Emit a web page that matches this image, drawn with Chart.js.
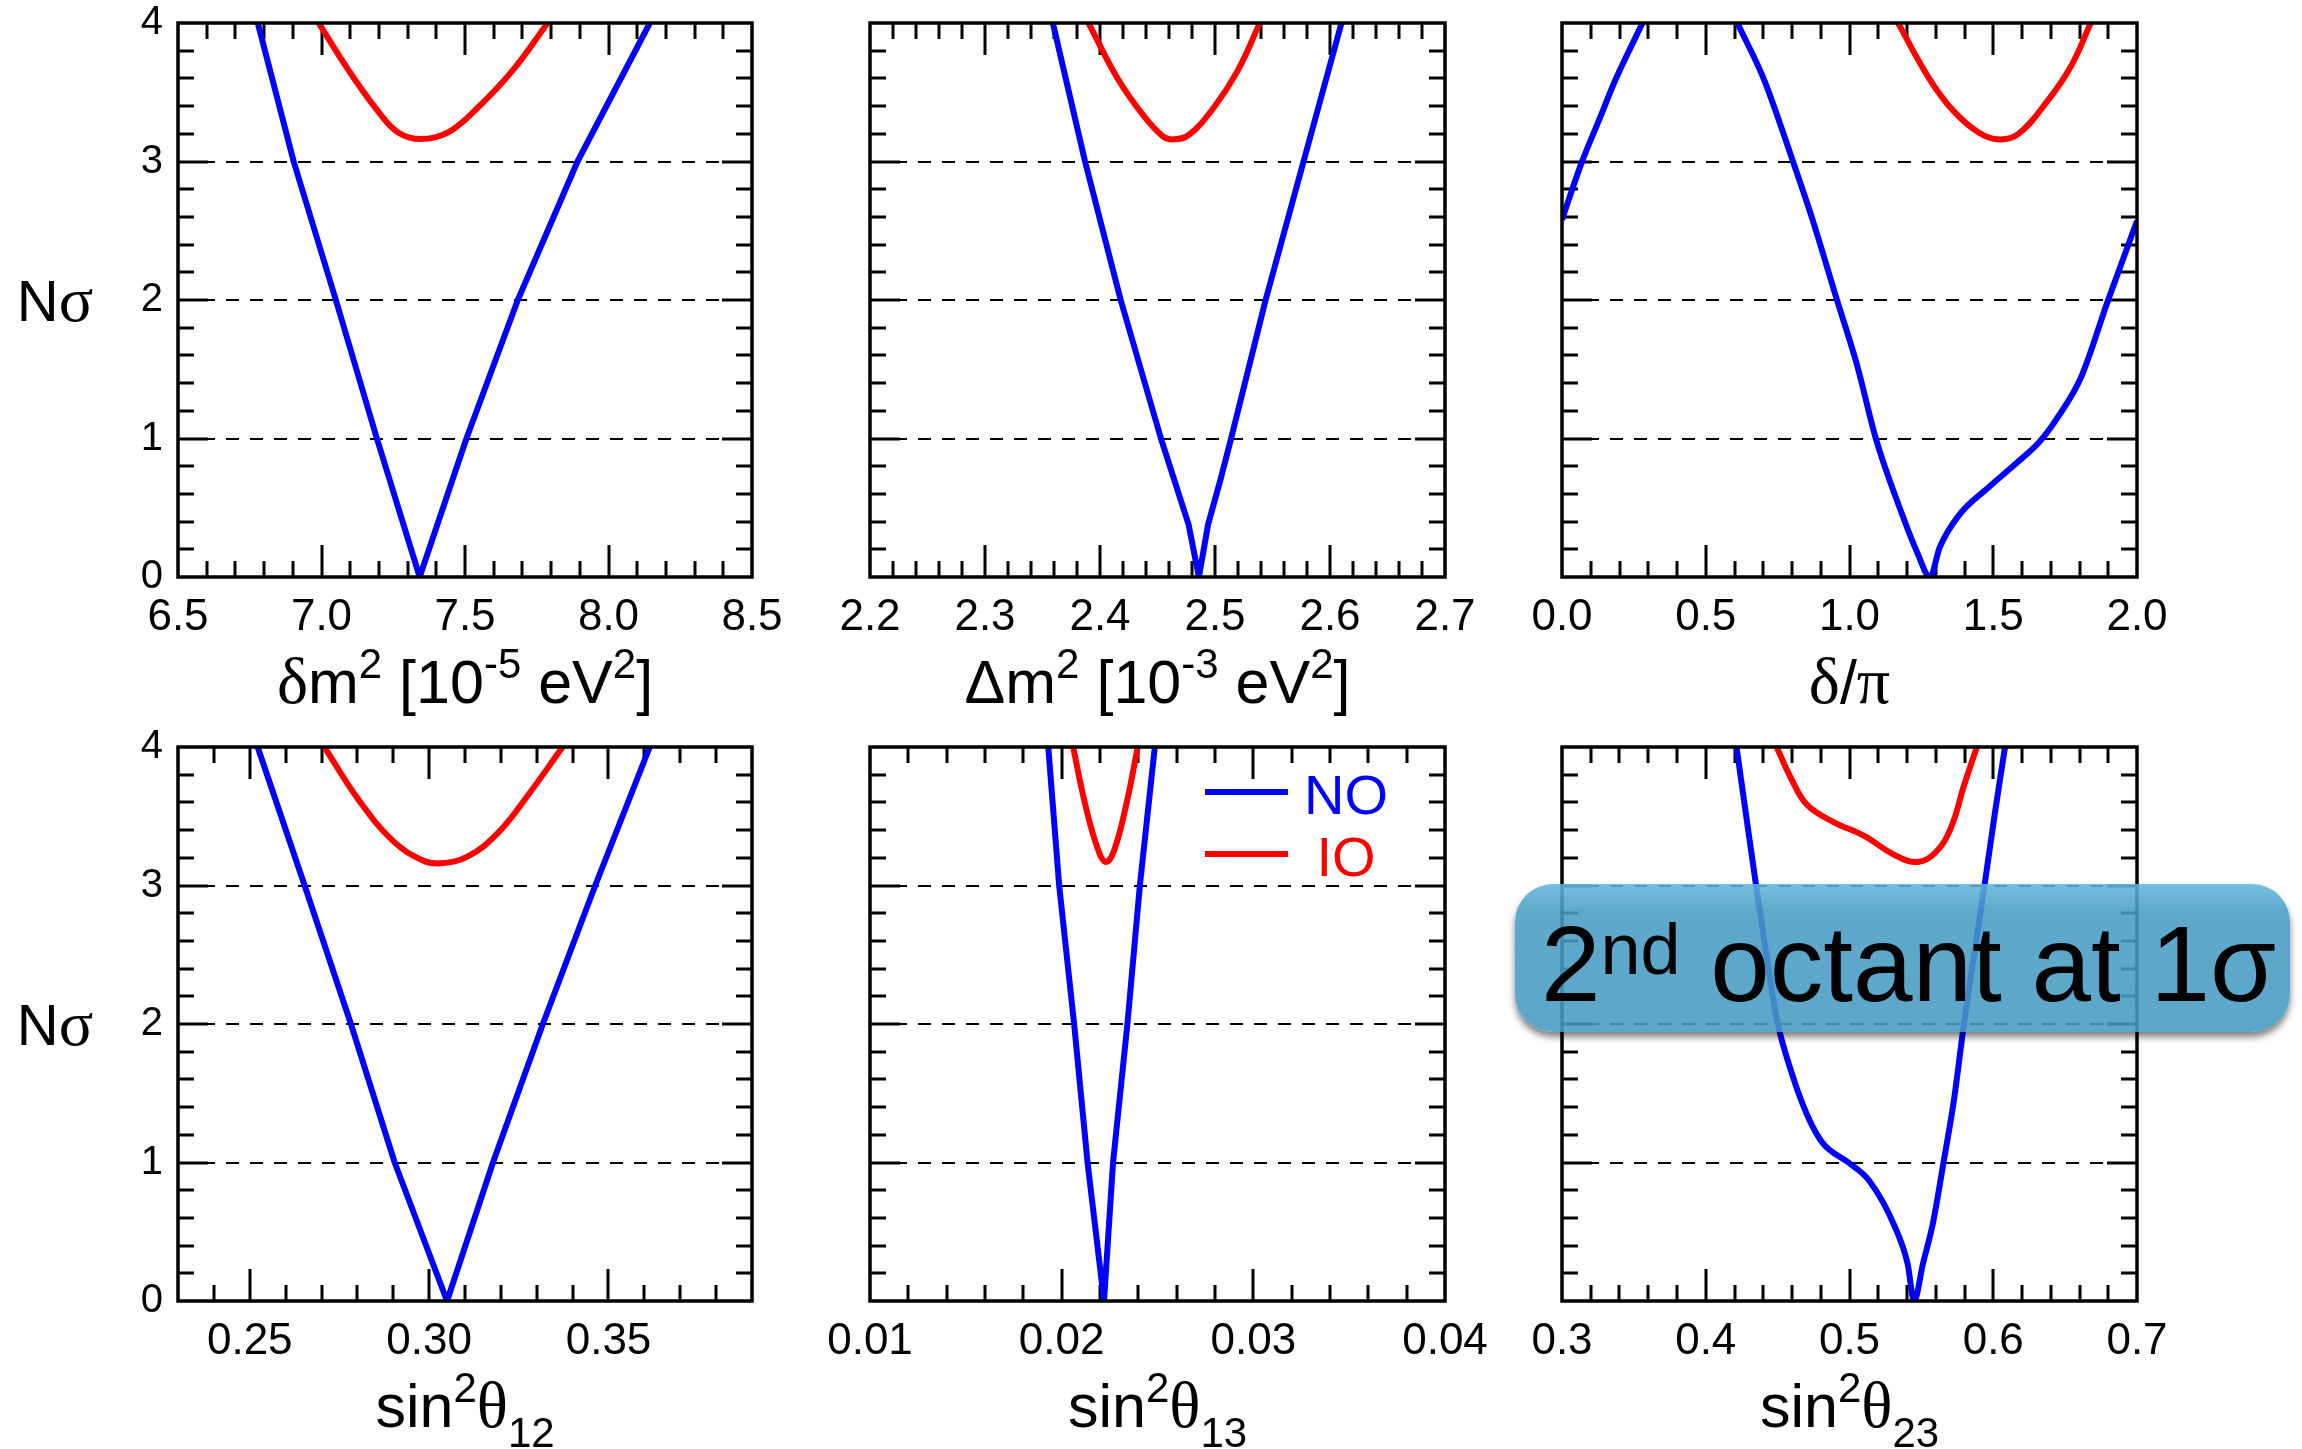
<!DOCTYPE html>
<html>
<head>
<meta charset="utf-8">
<script src="https://cdn.jsdelivr.net/npm/chart.js@4.4.1/dist/chart.umd.min.js"></script>
<style>
  html, body { margin: 0; padding: 0; background: #fff; width: 2302px; height: 1449px; overflow: hidden; }
  canvas { position: absolute; }
  #note {
    position: absolute; left: 1515px; top: 884px; width: 775px; height: 148px;
    border-radius: 38px;
    background: linear-gradient(rgba(100,182,218,0.88), rgba(72,157,196,0.88) 18%, rgba(70,155,194,0.88));
    box-shadow: 0 5px 7px rgba(0,0,0,0.5);
  }
  #note .txt {
    position: absolute; left: 26px; top: 0; line-height: 148px; padding-top: 6px;
    font-family: 'Liberation Sans', Arial, sans-serif; font-size: 107px; color: #000; white-space: nowrap;
  }
  #note .sup { font-size: 72px; position: relative; top: -27px; }
</style>
</head>
<body>
<canvas id="c1"></canvas>
<canvas id="c2"></canvas>
<canvas id="c3"></canvas>
<canvas id="c4"></canvas>
<canvas id="c5"></canvas>
<canvas id="c6"></canvas>
<div id="note"><span class="txt">2<span class="sup">nd</span> octant at 1σ</span></div>
<script>
// ---- values ----
const seriesNames = ['NO', 'IO'];
const yTickLabels = ['0', '1', '2', '3', '4'];

// delta m^2 (1e-5 eV^2)
const dm21TickLabels = ['6.5', '7.0', '7.5', '8.0', '8.5'];
const dm21NOx = [6.778, 6.903, 7.05, 7.193, 7.342, 7.505, 7.684, 7.892, 8.144];
const dm21NOy = [4, 3, 2, 1, 0, 1, 2, 3, 4];
const dm21IOx = [6.99, 7.094, 7.198, 7.267, 7.345, 7.441, 7.545, 7.667, 7.788];
const dm21IOy = [4, 3.66, 3.36, 3.21, 3.162, 3.21, 3.39, 3.66, 4];

// Delta m^2 (1e-3 eV^2)
const dm31TickLabels = ['2.2', '2.3', '2.4', '2.5', '2.6', '2.7'];
const dm31NOx = [2.359, 2.387, 2.418, 2.453, 2.477, 2.486, 2.494, 2.505, 2.514, 2.544, 2.577, 2.610];
const dm31NOy = [4, 3, 2, 1, 0.38, 0, 0.38, 0.71, 1, 2, 3, 4];
const dm31IOx = [2.390, 2.416, 2.438, 2.455, 2.464, 2.477, 2.499, 2.520, 2.539];
const dm31IOy = [4, 3.59, 3.33, 3.18, 3.16, 3.19, 3.39, 3.66, 4];

// delta / pi
const deltaTickLabels = ['0.0', '0.5', '1.0', '1.5', '2.0'];
const deltaNOx = [0, 0.068, 0.127, 0.186, 0.28, 0.45, 0.61, 0.703, 0.805, 0.873, 0.958, 1.025, 1.093, 1.178, 1.237, 1.28, 1.314, 1.381, 1.483, 1.585, 1.661, 1.720, 1.805, 1.898, 2.0];
const deltaNOy = [2.58, 2.99, 3.29, 3.59, 4, null, 4, 3.59, 2.99, 2.57, 1.99, 1.54, 0.99, 0.48, 0.17, 0, 0.215, 0.447, 0.646, 0.83, 0.977, 1.14, 1.44, 1.99, 2.57];
const deltaIOx = [1.169, 1.280, 1.364, 1.449, 1.517, 1.585, 1.686, 1.771, 1.839];
const deltaIOy = [4, 3.59, 3.36, 3.21, 3.16, 3.195, 3.43, 3.69, 4];

// sin^2 theta12
const s12TickLabels = ['0.25', '0.30', '0.35'];
const s12NOx = [0.2522, 0.2653, 0.2782, 0.2904, 0.305, 0.3178, 0.3317, 0.3463, 0.3615];
const s12NOy = [4, 3, 2, 1, 0, 1, 2, 3, 4];
const s12IOx = [0.2708, 0.2803, 0.29, 0.2983, 0.3032, 0.3108, 0.3192, 0.3275, 0.3372];
const s12IOy = [4, 3.62, 3.32, 3.18, 3.16, 3.21, 3.38, 3.65, 4];

// sin^2 theta13
const s13TickLabels = ['0.01', '0.02', '0.03', '0.04'];
const s13NOx = [0.0193, 0.01987, 0.02065, 0.02135, 0.02221, 0.02268, 0.02343, 0.02408, 0.02486];
const s13NOy = [4, 3, 2, 1, 0, 1, 2, 3, 4];
const s13IOx = [0.0206, 0.02117, 0.02182, 0.02229, 0.02273, 0.02338, 0.02397];
const s13IOy = [4, 3.62, 3.29, 3.17, 3.25, 3.59, 4];

// sin^2 theta23
const s23TickLabels = ['0.3', '0.4', '0.5', '0.6', '0.7'];
const s23NOx = [0.4214, 0.4279, 0.435, 0.4421, 0.4493, 0.46, 0.4707, 0.4814, 0.4993, 0.5136, 0.5314, 0.5404, 0.545, 0.5511, 0.5582, 0.5654, 0.5725, 0.5796, 0.5868, 0.5939, 0.6011, 0.6082];
const s23NOy = [4, 3.52, 3.0, 2.51, 2.04, 1.64, 1.34, 1.14, 1.0, 0.87, 0.54, 0.27, 0, 0.27, 0.57, 1.0, 1.44, 2.0, 2.51, 3.0, 3.52, 4];
const s23IOx = [0.4493, 0.46, 0.4707, 0.4886, 0.51, 0.5314, 0.5475, 0.56, 0.5707, 0.5796, 0.5886];
const s23IOy = [4, 3.76, 3.58, 3.46, 3.36, 3.22, 3.17, 3.24, 3.42, 3.72, 4];

// ---- styling ----
const SANS = "'Liberation Sans', Arial, sans-serif";
const SERIF = "'Liberation Serif', 'Times New Roman', serif";
const BLUE = '#0000ff', RED = '#ff0000';

const sup = (t) => [t, SANS, 42, -25];
const sub = (t) => [t, SANS, 42, 20];
const titleDm21 = [['δ', SERIF, 66, 0], ['m', SANS, 61, 0], sup('2'), [' [10', SANS, 61, 0], sup('-5'), [' eV', SANS, 61, 0], sup('2'), [']', SANS, 61, 0]];
const titleDm31 = [['Δm', SANS, 61, 0], sup('2'), [' [10', SANS, 61, 0], sup('-3'), [' eV', SANS, 61, 0], sup('2'), [']', SANS, 61, 0]];
const titleDelta = [['δ', SERIF, 66, 0], ['/', SANS, 61, 0], ['π', SERIF, 66, 0]];
const titleS = (k) => [['sin', SANS, 61, 0], sup('2'), ['θ', SERIF, 65, 0], sub(k)];

const cols = [[178, 752], [870, 1445], [1562, 2137]];
const rows = [[23, 577], [747, 1301]];

const panels = [
  { id: 'c1', col: 0, row: 0, min: 6.5, max: 8.5, minor: 0.1, labels: dm21TickLabels, no: [dm21NOx, dm21NOy], io: [dm21IOx, dm21IOy], title: titleDm21, smooth: false },
  { id: 'c2', col: 1, row: 0, min: 2.2, max: 2.7, minor: 0.02, labels: dm31TickLabels, no: [dm31NOx, dm31NOy], io: [dm31IOx, dm31IOy], title: titleDm31, smooth: false },
  { id: 'c3', col: 2, row: 0, min: 0, max: 2, minor: 0.1, labels: deltaTickLabels, no: [deltaNOx, deltaNOy], io: [deltaIOx, deltaIOy], title: titleDelta, smooth: true },
  { id: 'c4', col: 0, row: 1, min: 0.23, max: 0.39, minor: 0.01, labels: s12TickLabels, no: [s12NOx, s12NOy], io: [s12IOx, s12IOy], title: titleS('12'), smooth: false },
  { id: 'c5', col: 1, row: 1, min: 0.01, max: 0.04, minor: 0.002, labels: s13TickLabels, no: [s13NOx, s13NOy], io: [s13IOx, s13IOy], title: titleS('13'), smooth: false, legend: true },
  { id: 'c6', col: 2, row: 1, min: 0.3, max: 0.7, minor: 0.02, labels: s23TickLabels, no: [s23NOx, s23NOy], io: [s23IOx, s23IOy], title: titleS('23'), smooth: true }
];

const PADL = 180, PADT = 40, PADR = 60, XH = 160;

function pts(xs, ys) {
  return xs.map((x, i) => ({ x: x, y: ys[i] }));
}

function line(ctx, x1, y1, x2, y2) {
  ctx.beginPath(); ctx.moveTo(x1, y1); ctx.lineTo(x2, y2); ctx.stroke();
}

function drawRich(ctx, parts, cx, base) {
  let w = 0;
  parts.forEach(p => { ctx.font = p[2] + 'px ' + p[1]; w += ctx.measureText(p[0]).width; });
  let x = cx - w / 2;
  ctx.textAlign = 'left'; ctx.textBaseline = 'alphabetic'; ctx.fillStyle = '#000';
  parts.forEach(p => {
    ctx.font = p[2] + 'px ' + p[1];
    ctx.fillText(p[0], x, base + p[3]);
    x += ctx.measureText(p[0]).width;
  });
}

// frame, inner ticks, dashed sigma lines, titles and legend for one panel
function framePlugin(p) {
  return {
    id: 'frame',
    beforeDatasetsDraw(chart) {
      const { ctx, chartArea: a, scales: { x, y } } = chart;
      ctx.save();
      ctx.strokeStyle = '#000';
      ctx.lineWidth = 2.2;
      ctx.setLineDash([13, 11]);
      yTickLabels.map(Number).forEach(v => {
        if (v > y.min && v < y.max) {
          const py = Math.round(y.getPixelForValue(v));
          line(ctx, a.left, py, a.right, py);
        }
      });
      ctx.setLineDash([]);
      ctx.lineWidth = 3;
      const majors = p.labels.map(Number);
      const n = Math.round((p.max - p.min) / p.minor);
      for (let i = 1; i < n; i++) {
        const v = p.min + i * p.minor;
        const isMajor = majors.some(m => Math.abs(m - v) < p.minor / 10);
        const len = isMajor ? 32 : 16;
        const px = Math.round(x.getPixelForValue(v));
        line(ctx, px, a.bottom, px, a.bottom - len);
        line(ctx, px, a.top, px, a.top + len);
      }
      for (let i = 1; i < 20; i++) {
        const len = i % 5 === 0 ? 30 : 16;
        const py = Math.round(y.getPixelForValue(i * 0.2));
        line(ctx, a.left, py, a.left + len, py);
        line(ctx, a.right, py, a.right - len, py);
      }
      ctx.restore();
    },
    afterDatasetsDraw(chart) {
      const { ctx, chartArea: a, scales: { y } } = chart;
      ctx.save();
      ctx.strokeStyle = '#000';
      ctx.lineWidth = 3.5;
      ctx.strokeRect(a.left, a.top, a.right - a.left, a.bottom - a.top);
      drawRich(ctx, p.title, (a.left + a.right) / 2, a.bottom + 126);
      if (p.col === 0) {
        drawRich(ctx, [['N', SANS, 58, 0], ['σ', SERIF, 64, 0]], 57, y.getPixelForValue(2) + 21);
      }
      if (p.legend) {
        chart.data.datasets.forEach((ds, i) => {
          const ly = a.top + 45 + i * 62;
          ctx.strokeStyle = ds.borderColor;
          ctx.lineWidth = 6;
          line(ctx, a.left + 335, ly, a.left + 418, ly);
          ctx.fillStyle = ds.borderColor;
          ctx.font = '56px ' + SANS;
          ctx.textAlign = 'center';
          ctx.textBaseline = 'alphabetic';
          ctx.fillText(ds.label, a.left + 476, ly + 22);
        });
      }
      ctx.restore();
    }
  };
}

panels.forEach(p => {
  const [L, R] = cols[p.col];
  const [T, B] = rows[p.row];
  const cv = document.getElementById(p.id);
  const w = PADL + (R - L) + PADR;
  const h = PADT + (B - T) + XH;
  cv.width = w; cv.height = h;
  cv.style.width = w + 'px'; cv.style.height = h + 'px';
  cv.style.left = (L - PADL) + 'px'; cv.style.top = (T - PADT) + 'px';

  const lineStyle = { showLine: true, pointRadius: 0, borderWidth: 6, clip: 0, borderJoinStyle: 'round', spanGaps: false };
  new Chart(cv, {
    type: 'scatter',
    data: {
      datasets: [
        Object.assign({ label: seriesNames[0], data: pts(p.no[0], p.no[1]), borderColor: BLUE, backgroundColor: BLUE,
          tension: 0, cubicInterpolationMode: p.smooth ? 'monotone' : 'default' }, lineStyle),
        Object.assign({ label: seriesNames[1], data: pts(p.io[0], p.io[1]), borderColor: RED, backgroundColor: RED,
          tension: 0.4 }, lineStyle)
      ]
    },
    options: {
      responsive: false,
      animation: false,
      devicePixelRatio: 1,
      events: [],
      layout: { padding: { left: 0, top: PADT, right: PADR, bottom: 0 } },
      plugins: { legend: { display: false }, tooltip: { enabled: false } },
      scales: {
        x: {
          type: 'linear', min: p.min, max: p.max,
          grid: { display: false }, border: { display: false },
          afterBuildTicks: s => { s.ticks = p.labels.map(t => ({ value: Number(t) })); },
          afterFit: s => { s.height = XH; },
          ticks: {
            autoSkip: false, maxRotation: 0, minRotation: 0, padding: 6, color: '#000',
            font: { family: SANS, size: 44 },
            callback: (v, i) => p.labels[i]
          }
        },
        y: {
          type: 'linear', min: 0, max: 4,
          grid: { display: false }, border: { display: false },
          afterBuildTicks: s => { s.ticks = yTickLabels.map(t => ({ value: Number(t) })); },
          afterFit: s => { s.width = PADL; },
          ticks: {
            display: p.col === 0, padding: 7, color: '#000',
            font: { family: SANS, size: 40 },
            callback: (v, i) => yTickLabels[i]
          }
        }
      }
    },
    plugins: [framePlugin(p)]
  });
});
</script>
</body>
</html>
